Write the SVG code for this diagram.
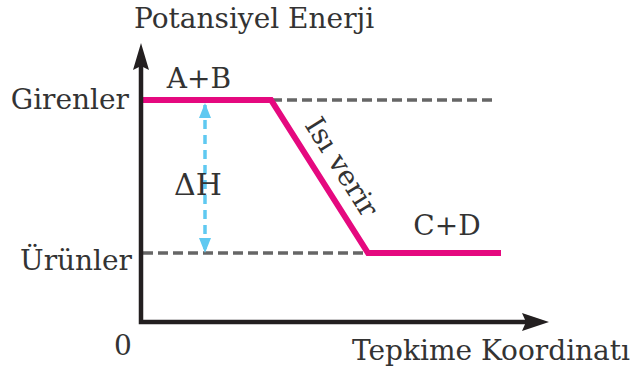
<svg xmlns="http://www.w3.org/2000/svg" width="642" height="374" viewBox="0 0 642 374">
<style>
.t{font-family:"DejaVu Serif","Liberation Serif",serif;font-size:28px;fill:#333}
.ax{stroke:#231f20;stroke-width:4.5;fill:none}
.dash{stroke:#666;stroke-width:3.5;stroke-dasharray:10 5;fill:none}
.pk{stroke:#e5097f;stroke-width:6;fill:none;stroke-linejoin:miter}
.dh{stroke:#5fc9f1;stroke-width:3.5;stroke-dasharray:9 6;fill:none}
</style>
<g id="connectors">
<path class="dash" d="M272,100 H497"/>
<path class="dash" d="M143,253 H368"/>
<path class="dh" d="M205,105 V251"/>
<path d="M199,118 L205,103 L211,118 z" fill="#5fc9f1"/>
<path d="M199,238 L205,253 L211,238 z" fill="#5fc9f1"/>
<path class="pk" d="M143,100 H271 L368,253 H501"/>
</g>
<g id="axes">
<path class="ax" d="M141,62 V322 H530"/>
<path d="M141,43 L149,70 L141,66 L133,70 z" fill="#231f20"/>
<path d="M549,322 L522,313 L526,322 L522,331 z" fill="#231f20"/>
</g>
<g id="y-label"><text class="t" x="134" y="28">Potansiyel Enerji</text></g>
<g id="x-label"><text class="t" x="352" y="360">Tepkime Koordinatı</text></g>
<g id="origin"><text class="t" x="123" y="355" text-anchor="middle">0</text></g>
<g id="girenler"><text class="t" x="129" y="109" text-anchor="end">Girenler</text></g>
<g id="urunler"><text class="t" x="132" y="270" text-anchor="end">Ürünler</text></g>
<g id="ab"><text class="t" x="199" y="88" text-anchor="middle">A+B</text></g>
<g id="cd"><text class="t" x="447" y="235" text-anchor="middle">C+D</text></g>
<g id="dH"><text class="t" x="198" y="195" text-anchor="middle" style="font-size:30px">ΔH</text></g>
<g id="isi"><text class="t" transform="translate(304,125) rotate(57.7)">Isı verir</text></g>
</svg>
